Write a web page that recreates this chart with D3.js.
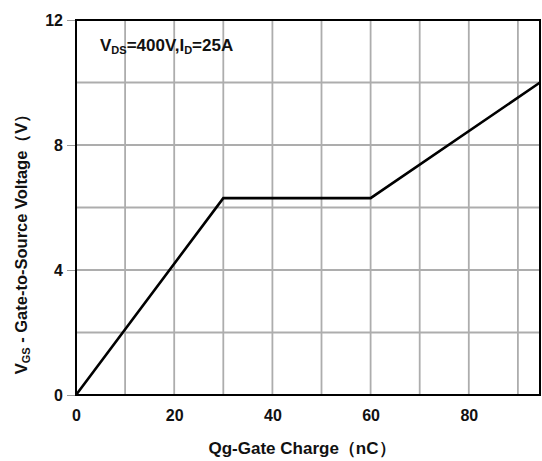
<!DOCTYPE html>
<html>
<head>
<meta charset="utf-8">
<script src="https://cdn.jsdelivr.net/npm/d3@7"></script>
<style>
  body { margin: 0; background: #fff; }
  text { font-family: "Liberation Sans", Arial, sans-serif; font-weight: bold; fill: #111; }
</style>
</head>
<body>
<div id="chart"></div>
<script>
// gate charge curve points (nC, V)
const charge = [0, 30, 60, 94.5];
const voltage = [0, 6.3, 6.3, 10];
const xTicks = [0, 20, 40, 60, 80];
const yTicks = [0, 4, 8, 12];
const xGrid = [10, 20, 30, 40, 50, 60, 70, 80, 90];
const yGrid = [2, 4, 6, 8, 10];

const width = 542, height = 461;
const margin = { top: 20, right: 2, bottom: 66, left: 76 };

const svg = d3.select("#chart")
  .append("svg")
    .attr("width", width)
    .attr("height", height);

const x = d3.scaleLinear()
  .domain([0, 94.5])
  .range([margin.left, width - margin.right]);

const y = d3.scaleLinear()
  .domain([0, 12])
  .range([height - margin.bottom, margin.top]);

// grid
svg.append("g")
  .selectAll("line")
  .data(xGrid)
  .join("line")
    .attr("x1", d => x(d)).attr("x2", d => x(d))
    .attr("y1", y(0)).attr("y2", y(12))
    .attr("stroke", "#adadad")
    .attr("stroke-width", 1.8);

svg.append("g")
  .selectAll("line")
  .data(yGrid)
  .join("line")
    .attr("x1", x(0)).attr("x2", x(94.5))
    .attr("y1", d => y(d)).attr("y2", d => y(d))
    .attr("stroke", "#adadad")
    .attr("stroke-width", 1.8);

// axes
const xAxis = svg.append("g")
  .attr("transform", `translate(0,${y(0)})`)
  .call(d3.axisBottom(x).tickValues(xTicks).tickSize(0).tickPadding(15));
xAxis.select(".domain").remove();
xAxis.selectAll("text")
  .style("font-size", "16px")
  .style("font-family", "'Liberation Sans', Arial, sans-serif")
  .attr("fill", "#111");

const yAxis = svg.append("g")
  .attr("transform", `translate(${x(0)},0)`)
  .call(d3.axisLeft(y).tickValues(yTicks).tickSize(9).tickPadding(4));
yAxis.select(".domain").remove();
yAxis.selectAll("line").attr("stroke", "#999");
yAxis.selectAll("text")
  .style("font-size", "16px")
  .style("font-family", "'Liberation Sans', Arial, sans-serif")
  .attr("fill", "#111");

// the curve
const pts = charge.map((c, i) => [c, voltage[i]]);
svg.append("path")
  .datum(pts)
  .attr("d", d3.line().x(d => x(d[0])).y(d => y(d[1])))
  .attr("fill", "none")
  .attr("stroke", "#000")
  .attr("stroke-width", 2.6);

// frame
svg.append("rect")
  .attr("x", x(0)).attr("y", y(12))
  .attr("width", x(94.5) - x(0))
  .attr("height", y(0) - y(12))
  .attr("fill", "none")
  .attr("stroke", "#000")
  .attr("stroke-width", 2);

// condition label
const cond = svg.append("text")
  .attr("x", 100).attr("y", 51)
  .style("font-size", "17px");
cond.append("tspan").text("V");
cond.append("tspan").text("DS").attr("dy", 3).style("font-size", "11px");
cond.append("tspan").text("=400V,I").attr("dy", -3);
cond.append("tspan").text("D").attr("dy", 3).style("font-size", "11px");
cond.append("tspan").text("=25A").attr("dy", -3);

// x title
svg.append("text")
  .attr("x", 302).attr("y", 454)
  .attr("text-anchor", "middle")
  .style("font-size", "17px")
  .text("Qg-Gate Charge（nC）");

// y title
const yt = svg.append("text")
  .attr("transform", `translate(27,${240}) rotate(-90)`)
  .attr("text-anchor", "middle")
  .style("font-size", "16.5px");
yt.append("tspan").text("V");
yt.append("tspan").text("GS").attr("dy", 3).style("font-size", "11px");
yt.append("tspan").text(" - Gate-to-Source Voltage（V）").attr("dy", -3);
</script>
</body>
</html>
